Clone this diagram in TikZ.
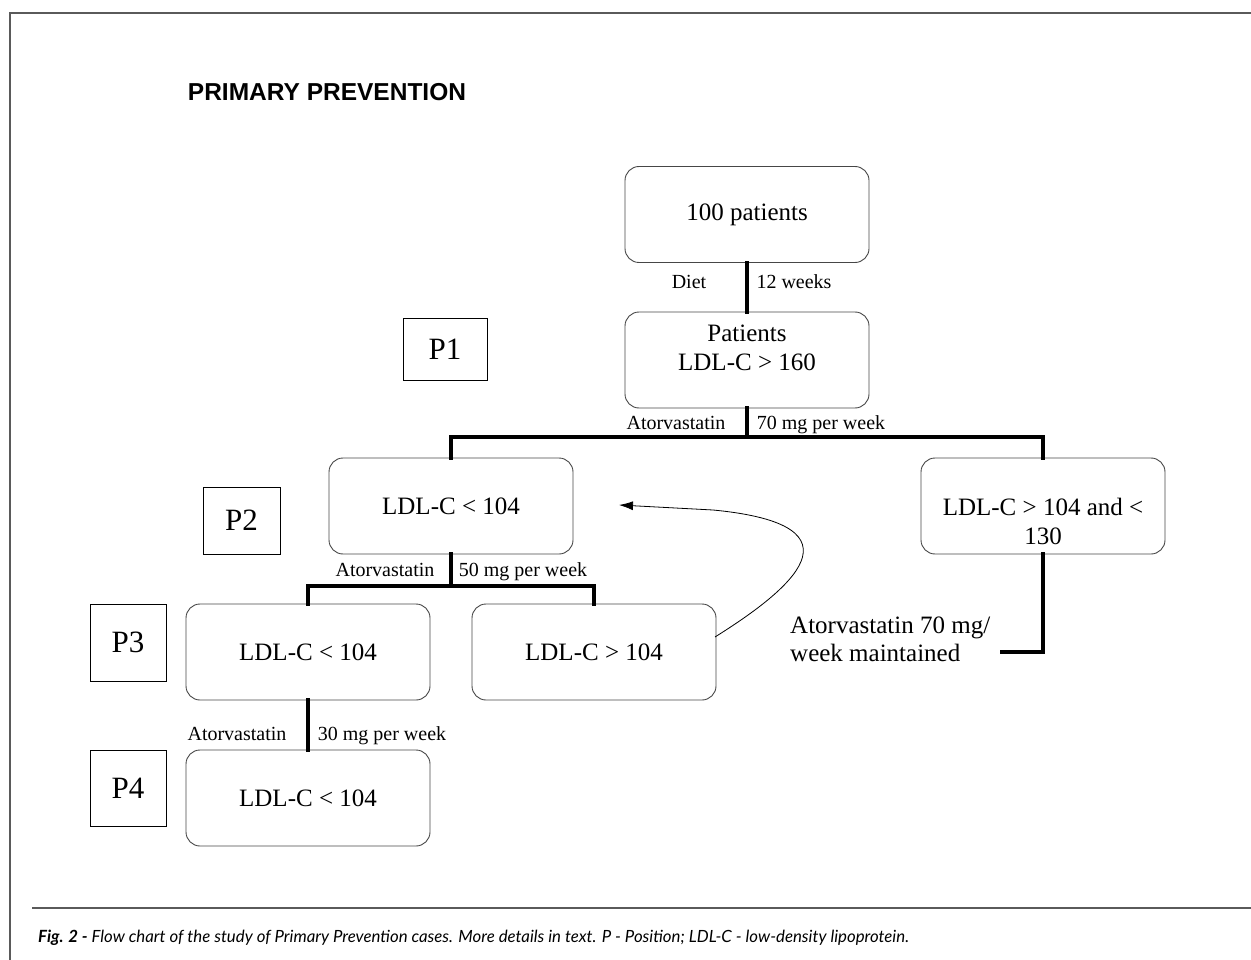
\documentclass[tikz,border=0pt]{standalone}
\usepackage{fontspec}
\setmainfont{Liberation Serif}
\newfontfamily\titlefont{Liberation Sans}
\newfontfamily\capfont{Lato}
\usetikzlibrary{arrows.meta,calc}
\definecolor{framegray}{RGB}{90,90,90}
\definecolor{boxgray}{RGB}{70,70,70}
\tikzset{
  flowbox/.style={draw=boxgray, line width=0.9pt, rounded corners=14pt, minimum width=244pt, minimum height=96pt, align=center, inner sep=2pt, font=\fontsize{25}{29}\selectfont},
  posbox/.style={draw=black, line width=0.9pt, align=center, inner sep=0pt, font=\fontsize{31}{34}\selectfont},
  conn/.style={line width=4pt, line cap=rect},
  lbl/.style={font=\fontsize{20}{22}\selectfont, inner sep=0pt, anchor=base},
}
\begin{document}
\begin{tikzpicture}[x=1pt,y=-1pt]
\useasboundingbox (0,0) rectangle (1251,960);
% frame
\draw[framegray, line width=1.5pt] (10,970) -- (10,13) -- (1260,13);
\draw[framegray, line width=1.2pt] (32,908) -- (1260,908);
% title
\node[font=\titlefont\bfseries\fontsize{24.5}{28}\selectfont, inner sep=0pt] (title) at (327,92) {PRIMARY PREVENTION};
% boxes
\node[flowbox] (A) at (747,214.5) {100 patients};
\node[flowbox] (B) at (747,360) {Patients\\LDL-C > 160\\[-4pt]\mbox{}};
\node[flowbox] (C) at (451,506) {LDL-C < 104};
\node[flowbox] (D) at (1043,506) {\mbox{}\\[20pt]LDL-C > 104 and <\\130};
\node[flowbox] (E) at (308,652) {LDL-C < 104};
\node[flowbox] (F) at (594,652) {LDL-C > 104};
\node[flowbox] (G) at (308,798) {LDL-C < 104};
% position boxes
\node[posbox, minimum width=84pt, minimum height=62pt] (P1) at (445,349) {P1};
\node[posbox, minimum width=77pt, minimum height=67pt] (P2) at (241.5,520.5) {P2};
\node[posbox, minimum width=76pt, minimum height=77pt] (P3) at (128,642.5) {P3};
\node[posbox, minimum width=76pt, minimum height=76pt] (P4) at (128,788) {P4};
% connectors
\draw[conn] (A.south) -- (B.north);
\coordinate (bar1) at (747,437);
\draw[conn] (B.south) -- (bar1);
\draw[conn] (C.north) -- (C.north |- bar1) -- (D.north |- bar1) -- (D.north);
\coordinate (bar2) at (451,586);
\draw[conn] (C.south) -- (bar2);
\draw[conn] (E.north) -- (E.north |- bar2) -- (F.north |- bar2) -- (F.north);
\draw[conn] (E.south) -- (G.north);
\coordinate (m1) at (1002,652);
\draw[conn] (D.south) -- (D.south |- m1) -- (m1);
% labels
\node[lbl] (l1) at (689,289) {Diet};
\node[lbl] (l2) at (794,289) {12 weeks};
\node[lbl] (l3) at (676,429) {Atorvastatin};
\node[lbl] (l4) at (821,429) {70 mg per week};
\node[lbl] (l5) at (385,576) {Atorvastatin};
\node[lbl] (l6) at (523,576) {50 mg per week};
\node[lbl] (l7) at (237,740) {Atorvastatin};
\node[lbl] (l8) at (382,740) {30 mg per week};
\node[font=\fontsize{25}{28}\selectfont, align=left, inner sep=0pt, anchor=west] (maint) at (790,639) {Atorvastatin 70 mg/\\ week maintained};
% return arrow
\coordinate (cs) at (715,637);
\coordinate (cm) at (713,510);
\coordinate (ce) at (619,505);
\draw[line width=0.8pt, -{Latex[length=14pt,width=9pt]}] (cs) .. controls (790,590) and (870,525) .. (cm) -- (ce);
% caption
\node[font=\capfont\itshape\fontsize{16.8}{19}\selectfont, anchor=base west, inner sep=0pt] (cap) at (38,942) {\textbf{Fig. 2 -} Flow chart of the study of Primary Prevention cases. More details in text. P - Position; LDL-C - low-density lipoprotein.};
\end{tikzpicture}
\end{document}
